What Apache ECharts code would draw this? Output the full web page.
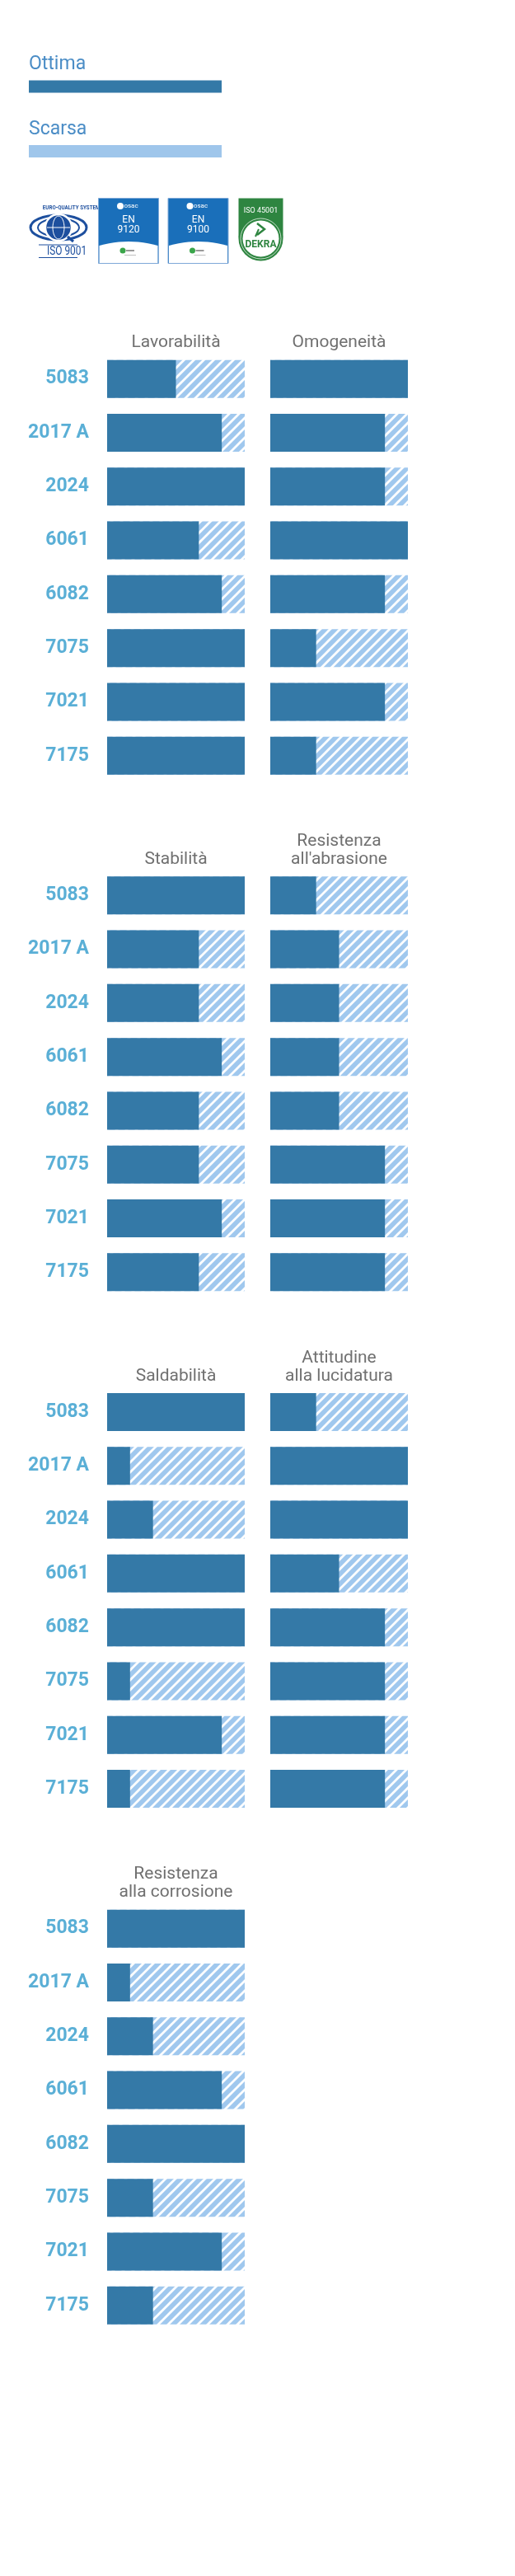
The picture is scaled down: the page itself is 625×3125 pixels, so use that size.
<!DOCTYPE html>
<html>
<head>
<meta charset="utf-8">
<script src="https://cdn.jsdelivr.net/npm/echarts@6/dist/echarts.min.js"></script>
<style>
html,body{margin:0;padding:0;background:#fff;}
#chart{width:625px;height:3125px;}
</style>
</head>
<body>
<div id="chart"></div>
<script>
// ---- data ----
const categories = ['5083', '2017 A', '2024', '6061', '6082', '7075', '7021', '7175'];
const lavorabilita = [3, 5, 6, 4, 5, 6, 6, 6];
const omogeneita = [6, 5, 5, 6, 5, 2, 5, 2];
const stabilita = [6, 4, 4, 5, 4, 4, 5, 4];
const resistenzaAbrasione = [2, 3, 3, 3, 3, 5, 5, 5];
const saldabilita = [6, 1, 2, 6, 6, 1, 5, 1];
const lucidatura = [2, 6, 6, 3, 5, 5, 5, 5];
const resistenzaCorrosione = [6, 1, 2, 5, 6, 2, 5, 2];
const scaleMax = 6;
const legendLabels = ['Ottima', 'Scarsa'];

// ---- style ----
const DARK = '#3479a7';
const LIGHT = '#a0c8ee';
const LABEL = '#5aafd6';
const TITLE = '#707070';
const LEGEND_TXT = '#4b8dc6';
const FONT = 'Roboto, "Noto Sans", sans-serif';

function makeHatch() {
  const P = 12;
  const c = document.createElement('canvas');
  c.width = P; c.height = P;
  const g = c.getContext('2d');
  g.fillStyle = LIGHT; g.fillRect(0, 0, P, P);
  g.strokeStyle = '#ffffff'; g.lineWidth = 2.8;
  g.beginPath();
  g.moveTo(-P, P); g.lineTo(P, -P);
  g.moveTo(0, P); g.lineTo(P, 0);
  g.moveTo(0, 2 * P); g.lineTo(2 * P, 0);
  g.stroke();
  return c;
}
const hatch = makeHatch();

const panels = [
  { title: 'Lavorabilità', data: lavorabilita, col: 0, sec: 0 },
  { title: 'Omogeneità', data: omogeneita, col: 1, sec: 0 },
  { title: 'Stabilità', data: stabilita, col: 0, sec: 1 },
  { title: "Resistenza\nall'abrasione", data: resistenzaAbrasione, col: 1, sec: 1 },
  { title: 'Saldabilità', data: saldabilita, col: 0, sec: 2 },
  { title: 'Attitudine\nalla lucidatura', data: lucidatura, col: 1, sec: 2 },
  { title: 'Resistenza\nalla corrosione', data: resistenzaCorrosione, col: 0, sec: 3 }
];

const secTop = [427, 1053.6, 1680.3, 2307];
const gridH = 522.4;
const colLeft = [130, 328];
const colW = 167;
const barW = 46;

const grid = [], xAxis = [], yAxis = [], series = [], title = [];
panels.forEach((p, i) => {
  const top = secTop[p.sec];
  grid.push({ left: colLeft[p.col], top: top, width: colW, height: gridH, containLabel: false });
  xAxis.push({ gridIndex: i, type: 'value', min: 0, max: scaleMax, show: false });
  yAxis.push({
    gridIndex: i, type: 'category', inverse: true, data: categories,
    axisLine: { show: false }, axisTick: { show: false }, splitLine: { show: false },
    axisLabel: {
      show: p.col === 0, margin: 22, color: LABEL, fontSize: 23, fontWeight: 'bold', fontFamily: FONT
    }
  });
  series.push({
    type: 'bar', xAxisIndex: i, yAxisIndex: i, barWidth: barW, silent: true, z: 1,
    data: categories.map(() => scaleMax),
    itemStyle: { color: { image: hatch, repeat: 'repeat' } }
  });
  series.push({
    type: 'bar', xAxisIndex: i, yAxisIndex: i, barWidth: barW, barGap: '-100%', silent: true, z: 2,
    data: p.data,
    itemStyle: { color: DARK }
  });
  const lines = p.title.split('\n').length;
  title.push({
    text: p.title, left: colLeft[p.col] + colW / 2, top: top - 22 * lines, textAlign: 'center', padding: 0,
    textStyle: { fontSize: 21, fontWeight: 'normal', color: TITLE, fontFamily: FONT, lineHeight: 22 }
  });
});

// ---- legend & certification marks (decoration) ----
const EQS = '#1d4f9e';
const OASIS = '#1a6fba';
const GREEN = '#2e8540';
function txt(x, y, text, font, fill, align, sx) {
  return { type: 'text', x: x, y: y, scaleX: sx || 1, originX: x, originY: y,
    style: { text: text, font: font, fill: fill, align: align || 'left', verticalAlign: 'middle' } };
}
const graphic = [
  txt(35, 78.5, legendLabels[0], '23px ' + FONT, LEGEND_TXT),
  { type: 'rect', shape: { x: 35, y: 97.5, width: 234, height: 15 }, style: { fill: DARK } },
  txt(35, 157.5, legendLabels[1], '23px ' + FONT, LEGEND_TXT),
  { type: 'rect', shape: { x: 35, y: 176, width: 234, height: 15 }, style: { fill: '#9fc6eb' } },

  // Euro-Quality System ISO 9001
  txt(71, 252, 'EURO-QUALITY SYSTEM', 'bold 8px ' + FONT, EQS, 'center', 0.78),
  { type: 'ellipse', shape: { cx: 71, cy: 276, rx: 34, ry: 15 }, style: { fill: 'none', stroke: EQS, lineWidth: 3 } },
  { type: 'ellipse', shape: { cx: 71, cy: 276, rx: 25, ry: 11 }, style: { fill: 'none', stroke: EQS, lineWidth: 2 } },
  { type: 'circle', shape: { cx: 71, cy: 276, r: 16 }, style: { fill: EQS, stroke: '#fff', lineWidth: 2.5 } },
  { type: 'ellipse', shape: { cx: 71, cy: 276, rx: 7, ry: 14 }, style: { fill: 'none', stroke: '#fff', lineWidth: 1 } },
  { type: 'line', shape: { x1: 57, y1: 276, x2: 85, y2: 276 }, style: { stroke: '#fff', lineWidth: 1 } },
  { type: 'line', shape: { x1: 82, y1: 287, x2: 89, y2: 293 }, style: { stroke: EQS, lineWidth: 3 } },
  { type: 'line', shape: { x1: 47, y1: 297, x2: 94, y2: 297 }, style: { stroke: EQS, lineWidth: 1 } },
  txt(70.5, 305, 'ISO 9001', '14px ' + FONT, EQS, 'center', 0.85),
  { type: 'line', shape: { x1: 47, y1: 312.5, x2: 94, y2: 312.5 }, style: { stroke: EQS, lineWidth: 1.2 } }
];

[['9120', 119.5], ['9100', 204]].forEach(([num, x]) => {
  const cx = x + 36.5;
  // curved white lower panel
  const pts = [];
  for (let k = 0; k <= 12; k++) {
    const t = k / 12;
    const px = x + 1 + t * 71;
    const py = 298 - 10 * 4 * t * (1 - t) * 0.5 * 2 / 2;
    pts.push([px, py]);
  }
  pts.push([x + 72, 319], [x + 1, 319]);
  graphic.push(
    { type: 'rect', shape: { x: x, y: 240.5, width: 73, height: 79 }, style: { fill: OASIS, stroke: '#7fa9d8', lineWidth: 1 } },
    { type: 'polygon', shape: { points: pts }, style: { fill: '#fff' } },
    { type: 'circle', shape: { cx: cx - 10, cy: 250, r: 4 }, style: { fill: '#fff' } },
    txt(cx + 3, 250, 'osac', '8px ' + FONT, '#fff', 'center'),
    txt(cx, 267, 'EN', '12px ' + FONT, '#fff', 'center'),
    txt(cx, 278.5, num, '12px ' + FONT, '#fff', 'center'),
    { type: 'circle', shape: { cx: cx - 7, cy: 304, r: 3.5 }, style: { fill: '#3aa54a' } },
    { type: 'rect', shape: { x: cx - 3, y: 303, width: 10, height: 2 }, style: { fill: '#9a9a9a' } },
    { type: 'rect', shape: { x: cx - 5, y: 309, width: 14, height: 1 }, style: { fill: '#c0c0c0' } }
  );
});

graphic.push(
  { type: 'rect', shape: { x: 289.5, y: 240.5, width: 54, height: 48 }, style: { fill: GREEN } },
  { type: 'circle', shape: { cx: 316.5, cy: 289.5, r: 27 }, style: { fill: GREEN } },
  { type: 'circle', shape: { cx: 316.5, cy: 289.5, r: 24.5 }, style: { fill: 'none', stroke: '#e8f2ea', lineWidth: 0.8 } },
  { type: 'circle', shape: { cx: 316.5, cy: 289.5, r: 22 }, style: { fill: '#fff' } },
  txt(316.5, 256, 'ISO 45001', '9px ' + FONT, '#fff', 'center'),
  { type: 'polyline', shape: { points: [[312, 271], [321, 278], [312, 285]] }, style: { stroke: GREEN, lineWidth: 2.5, fill: 'none' } },
  { type: 'line', shape: { x1: 314, y1: 278, x2: 310, y2: 287 }, style: { stroke: GREEN, lineWidth: 2 } },
  txt(316.5, 297, 'DEKRA', 'bold 12px ' + FONT, GREEN, 'center')
);

const chart = echarts.init(document.getElementById('chart'), null, { renderer: 'canvas' });
chart.setOption({
  animation: false,
  backgroundColor: '#ffffff',
  title: title,
  grid: grid,
  xAxis: xAxis,
  yAxis: yAxis,
  series: series,
  graphic: graphic
});
</script>
</body>
</html>
